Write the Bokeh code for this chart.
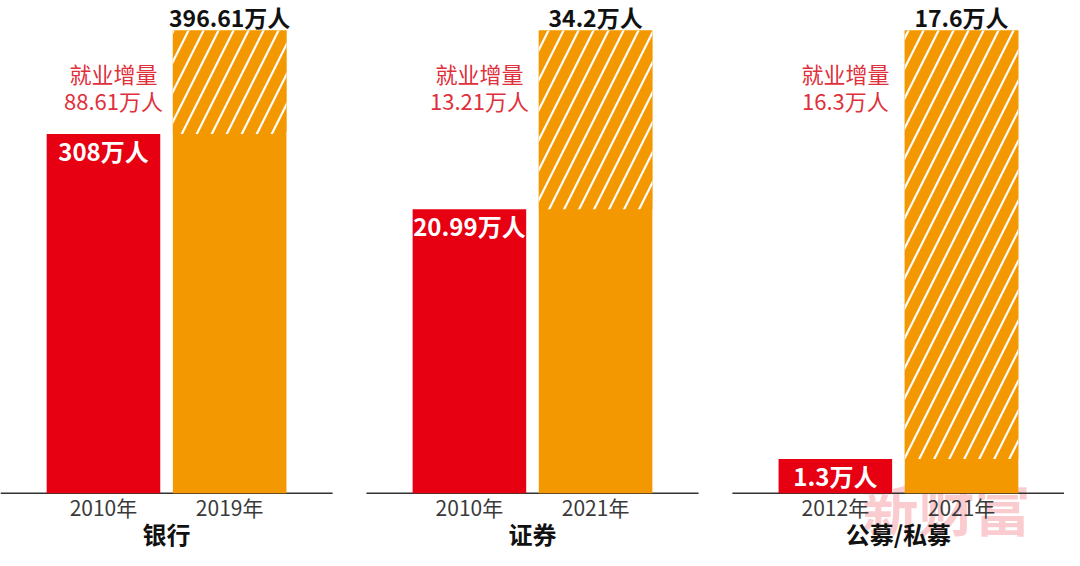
from bokeh.plotting import figure
from bokeh.models import Range1d, ColumnDataSource
from bokeh.core.properties import value
from bokeh.embed import file_html
from bokeh.resources import INLINE

# ---------------- data ----------------
categories = ["银行", "证券", "公募/私募"]
start_years = ["2010年", "2010年", "2012年"]
end_years = ["2019年", "2021年", "2021年"]
start_values = [308.0, 20.99, 1.3]
end_values = [396.61, 34.2, 17.6]
start_labels = ["308万人", "20.99万人", "1.3万人"]
end_labels = ["396.61万人", "34.2万人", "17.6万人"]
increase_title = "就业增量"
increase_labels = ["88.61万人", "13.21万人", "16.3万人"]
watermark = "新财富"

# ---------------- style ----------------
RED = "#E60012"
ORANGE = "#F39800"
ANNO = "#E0303C"
DARK = "#3A3A3A"
FONT = value("Noto Sans CJK SC")

W, H = 1064, 550
STRIDE = 2.9
BAR_W = 0.9
PAD = 0.816
BASE_FRAC = 0.1239
TOP_FRAC = 1.0651

p = figure(width=W, height=H, output_backend="svg", toolbar_location=None,
           x_range=Range1d(-PAD, 2 * STRIDE + 1 + PAD), y_range=Range1d(0, 1),
           min_border=0, min_border_left=0, min_border_right=0,
           min_border_top=0, min_border_bottom=0)
p.axis.visible = False
p.grid.visible = False
p.outline_line_color = None
p.background_fill_color = "white"
p.border_fill_color = "white"

for i in range(len(categories)):
    rng = f"r{i}"
    M = end_values[i]
    p.extra_y_ranges[rng] = Range1d(-BASE_FRAC * M, TOP_FRAC * M)

# watermark (behind everything)
last = len(categories) - 1
p.text(x=[last * STRIDE + 1 - 0.12], y=[0], text=[watermark], y_range_name=f"r{last}",
       text_font=FONT, text_font_size="56px", text_font_style="bold",
       text_color=RED, text_alpha=0.2,
       text_align="center", text_baseline="middle", y_offset=13)

for i, cat in enumerate(categories):
    rng = f"r{i}"
    x0 = i * STRIDE
    x1 = x0 + 1
    src = ColumnDataSource(dict(
        x0=[x0], x1=[x1], xm=[x0 + 0.5],
        s=[start_values[i]], e=[end_values[i]],
        sl=[start_labels[i]], el=[end_labels[i]],
        sy=[start_years[i]], ey=[end_years[i]],
        cat=[cat], inc_t=[increase_title], inc=[increase_labels[i]],
        xa=[x0 + 0.08], base=[0.0],
        bl=[x0 - PAD], br=[x1 + PAD],
    ))
    # baseline
    p.segment(x0="bl", x1="br", y0="base", y1="base", source=src, y_range_name=rng,
              line_color="#333333", line_width=1.5)
    # bars
    p.vbar(x="x0", top="s", bottom="base", width=BAR_W, source=src, y_range_name=rng,
           fill_color=RED, line_color=None)
    p.vbar(x="x1", top="e", bottom="base", width=BAR_W, source=src, y_range_name=rng,
           fill_color=ORANGE, line_color=None)
    p.vbar(x="x1", top="e", bottom="s", width=BAR_W, source=src, y_range_name=rng,
           fill_color=ORANGE, line_color=None,
           hatch_pattern="/", hatch_color="white", hatch_weight=2.2, hatch_scale=30)
    # value labels
    p.text(x="x1", y="e", text="el", source=src, y_range_name=rng, y_offset=-14,
           text_font=FONT, text_font_size="23px", text_font_style="bold",
           text_color="#111111", text_align="center", text_baseline="middle")
    p.text(x="x0", y="s", text="sl", source=src, y_range_name=rng, y_offset=16.5,
           text_font=FONT, text_font_size="24px", text_font_style="bold",
           text_color="white", text_align="center", text_baseline="middle")
    # increase annotation
    p.text(x="xa", y="e", text="inc_t", source=src, y_range_name=rng, y_offset=42,
           text_font=FONT, text_font_size="22px",
           text_color=ANNO, text_align="center", text_baseline="middle")
    p.text(x="xa", y="e", text="inc", source=src, y_range_name=rng, y_offset=69,
           text_font=FONT, text_font_size="22px",
           text_color=ANNO, text_align="center", text_baseline="middle")
    # year labels
    p.text(x="x0", y="base", text="sy", source=src, y_range_name=rng, y_offset=14,
           text_font=FONT, text_font_size="21px",
           text_color=DARK, text_align="center", text_baseline="middle")
    p.text(x="x1", y="base", text="ey", source=src, y_range_name=rng, y_offset=14,
           text_font=FONT, text_font_size="21px",
           text_color=DARK, text_align="center", text_baseline="middle")
    # category label
    p.text(x="xm", y="base", text="cat", source=src, y_range_name=rng, y_offset=40,
           text_font=FONT, text_font_size="24px", text_font_style="bold",
           text_color="#111111", text_align="center", text_baseline="middle")

open("out.html", "w").write(file_html(p, INLINE))
